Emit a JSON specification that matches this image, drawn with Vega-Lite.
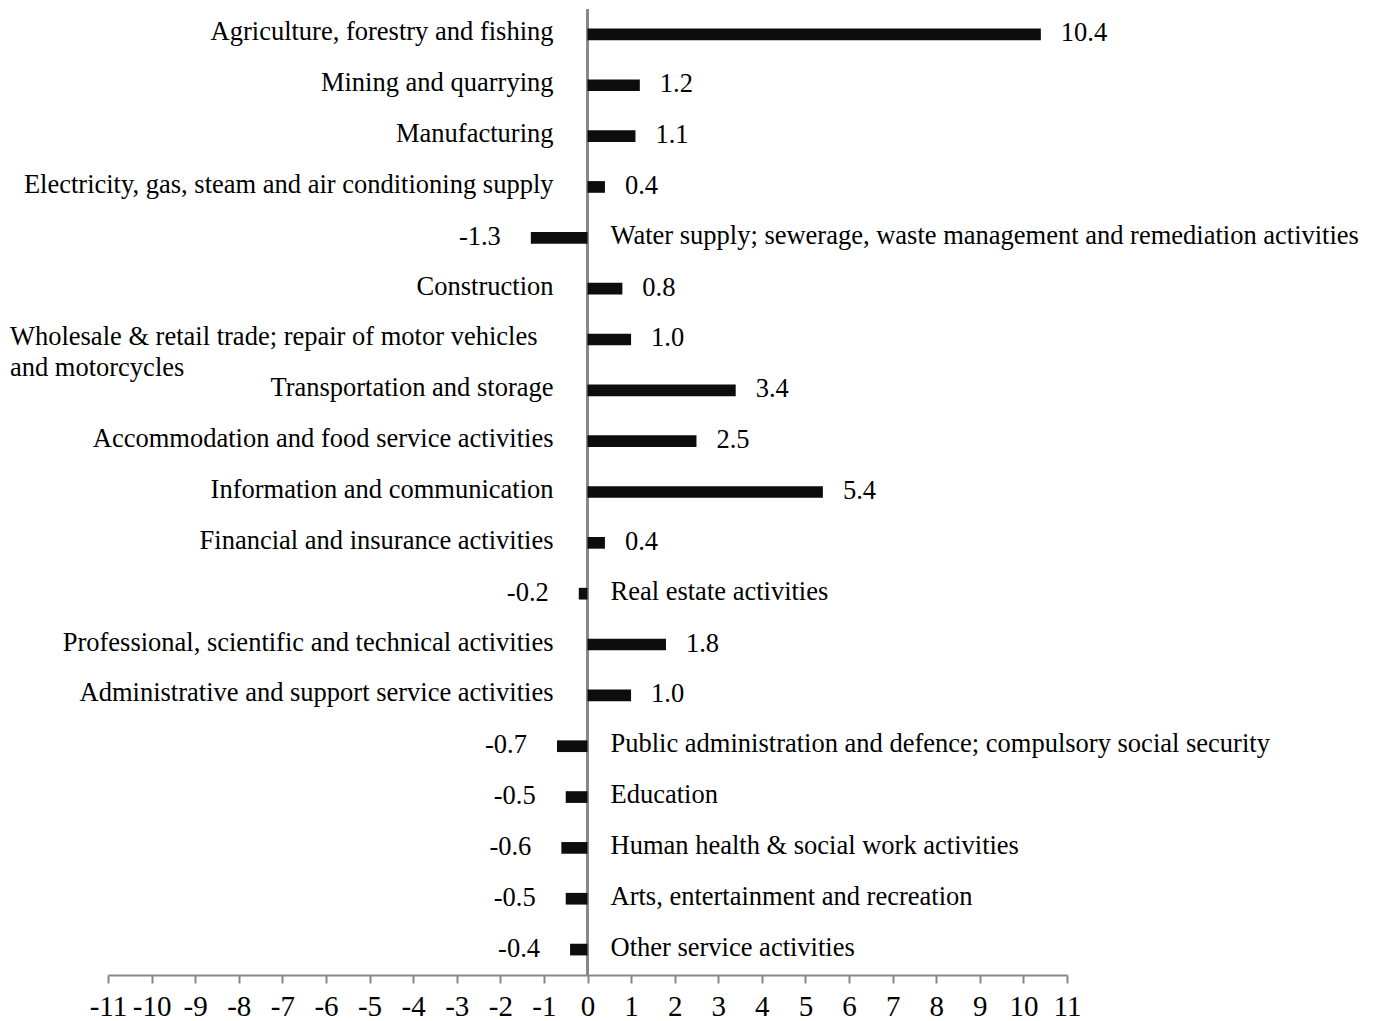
{
  "$schema": "https://vega.github.io/schema/vega-lite/v6.json",
  "width": 959,
  "height": 966,
  "autosize": {"type": "none"},
  "padding": {"left": 108, "top": 9, "right": 313, "bottom": 46},
  "background": "white",
  "config": {
    "view": {"stroke": null},
    "font": "Liberation Serif",
    "locale": {"number": {"decimal": ".", "thousands": ",", "grouping": [3], "currency": ["$", ""], "minus": "-"}}
  },
  "data": {
    "values": [
      {"sector": "Agriculture, forestry and fishing", "value": 10.4},
      {"sector": "Mining and quarrying", "value": 1.2},
      {"sector": "Manufacturing", "value": 1.1},
      {"sector": "Electricity, gas, steam and air conditioning supply", "value": 0.4},
      {"sector": "Water supply; sewerage, waste management and remediation activities", "value": -1.3},
      {"sector": "Construction", "value": 0.8},
      {"sector": "Wholesale & retail trade; repair of motor vehicles\nand motorcycles", "value": 1.0},
      {"sector": "Transportation and storage", "value": 3.4},
      {"sector": "Accommodation and food service activities", "value": 2.5},
      {"sector": "Information and communication", "value": 5.4},
      {"sector": "Financial and insurance activities", "value": 0.4},
      {"sector": "Real estate activities", "value": -0.2},
      {"sector": "Professional, scientific and technical activities", "value": 1.8},
      {"sector": "Administrative and support service activities", "value": 1.0},
      {"sector": "Public administration and defence; compulsory social security", "value": -0.7},
      {"sector": "Education", "value": -0.5},
      {"sector": "Human health & social work activities", "value": -0.6},
      {"sector": "Arts, entertainment and recreation", "value": -0.5},
      {"sector": "Other service activities", "value": -0.4}
    ]
  },
  "layer": [
    {
      "mark": {"type": "rule", "color": "#878787", "strokeWidth": 2},
      "encoding": {"x": {"datum": 0, "type": "quantitative"}}
    },
    {
      "mark": {"type": "bar", "color": "#0d0d0d"},
      "encoding": {
        "y": {"field": "sector", "type": "nominal", "sort": null, "axis": null,
              "scale": {"paddingInner": 0.77, "paddingOuter": 0.385}},
        "x": {"field": "value", "type": "quantitative", "stack": null,
              "scale": {"domain": [-11, 11], "nice": false},
              "axis": {"title": null, "grid": false,
                       "values": [-11,-10,-9,-8,-7,-6,-5,-4,-3,-2,-1,0,1,2,3,4,5,6,7,8,9,10,11],
                       "format": "d",
                       "domainColor": "#878787", "domainWidth": 2,
                       "tickColor": "#878787", "tickWidth": 2, "tickSize": 8,
                       "labelFontSize": 29, "labelColor": "#000000", "labelPadding": 9,
                       "labelFlush": false, "labelOverlap": false, "labelFont": "Liberation Serif"}}
      }
    },
    {
      "transform": [{"filter": "datum.value > 0 && indexof(datum.sector, '\\n') < 0"}],
      "mark": {"type": "text", "align": "right", "baseline": "middle", "dx": -34, "dy": -2, "fontSize": 26.5, "color": "#000000"},
      "encoding": {
        "y": {"field": "sector", "type": "nominal", "sort": null},
        "x": {"datum": 0, "type": "quantitative"},
        "text": {"field": "sector"}
      }
    },
    {
      "transform": [{"filter": "indexof(datum.sector, '\\n') >= 0"}],
      "mark": {"type": "text", "align": "left", "baseline": "alphabetic", "dy": 6, "fontSize": 26.5, "lineBreak": "\n", "lineHeight": 31, "color": "#000000"},
      "encoding": {
        "y": {"field": "sector", "type": "nominal", "sort": null},
        "x": {"datum": -13.25, "type": "quantitative"},
        "text": {"field": "sector"}
      }
    },
    {
      "transform": [{"filter": "datum.value < 0"}],
      "mark": {"type": "text", "align": "left", "baseline": "middle", "dx": 23, "dy": -2, "fontSize": 26.5, "color": "#000000"},
      "encoding": {
        "y": {"field": "sector", "type": "nominal", "sort": null},
        "x": {"datum": 0, "type": "quantitative"},
        "text": {"field": "sector"}
      }
    },
    {
      "transform": [{"filter": "datum.value > 0"}],
      "mark": {"type": "text", "align": "left", "baseline": "middle", "dx": 20, "dy": -1, "fontSize": 26.5, "color": "#000000"},
      "encoding": {
        "y": {"field": "sector", "type": "nominal", "sort": null},
        "x": {"field": "value", "type": "quantitative"},
        "text": {"field": "value", "type": "quantitative", "format": ".1f"}
      }
    },
    {
      "transform": [{"filter": "datum.value < 0"}],
      "mark": {"type": "text", "align": "right", "baseline": "middle", "dx": -30, "dy": -1, "fontSize": 26.5, "color": "#000000"},
      "encoding": {
        "y": {"field": "sector", "type": "nominal", "sort": null},
        "x": {"field": "value", "type": "quantitative"},
        "text": {"field": "value", "type": "quantitative", "format": ".1f"}
      }
    }
  ]
}
